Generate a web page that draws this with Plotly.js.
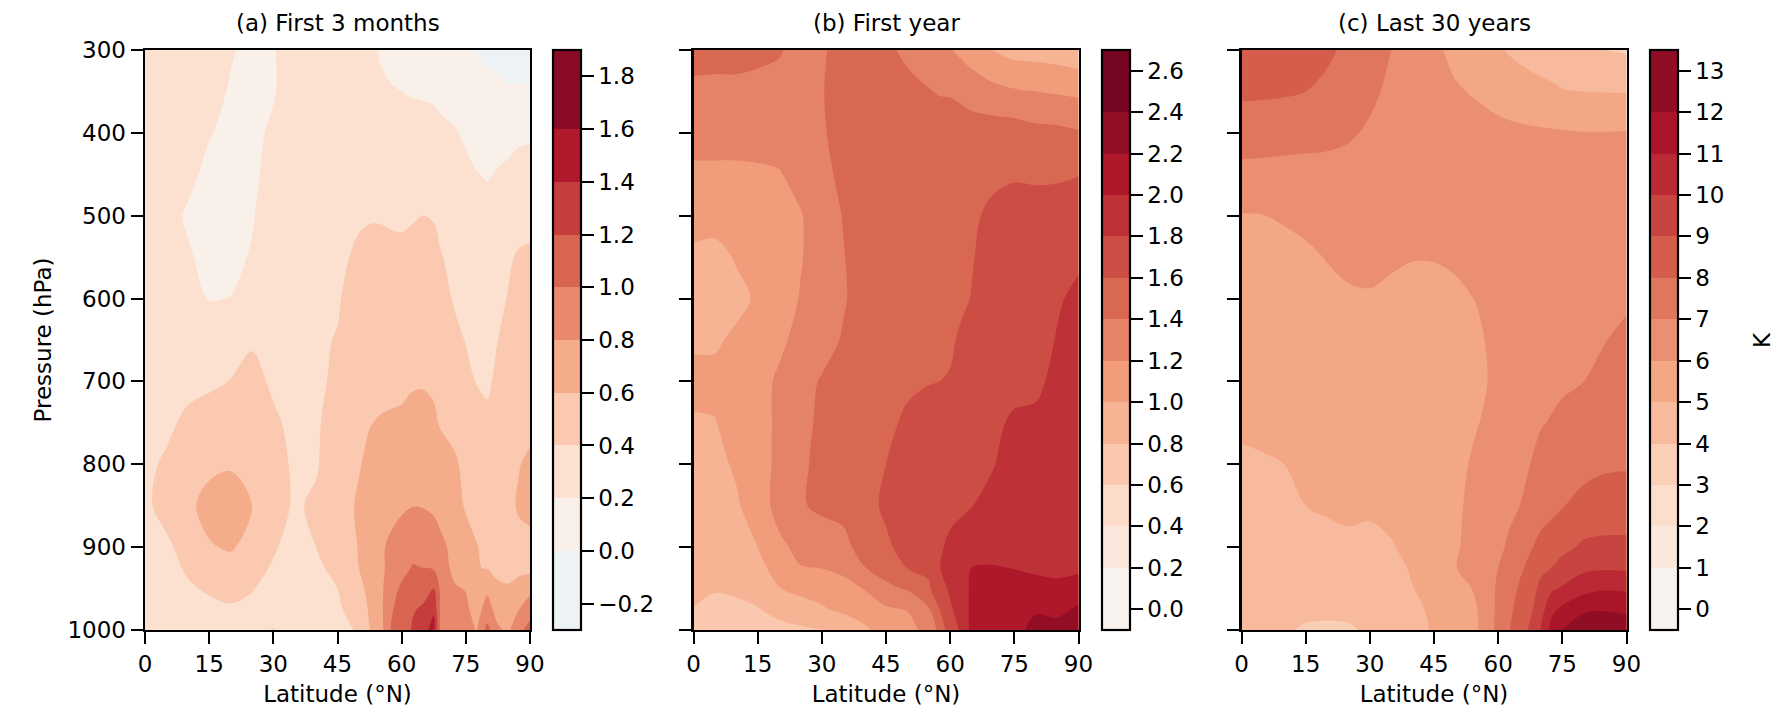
<!DOCTYPE html>
<html><head><meta charset="utf-8">
<script src="https://cdn.plot.ly/plotly-3.0.1.min.js"></script>
<style>html,body{margin:0;padding:0;background:#fff}</style></head>
<body><div id="chart" style="width:1787px;height:718px"></div>
<script>
const pressure=[300,350,400,450,500,550,600,650,700,750,800,850,900,925,950,975,1000];
const latA=[0,5,10,15,20,25,30,35,40,45,50,52.5,55,57.5,60,62.5,65,67.5,69,72.5,75,77.5,80,82.5,85,87.5,90];
const latB=[0,5,10,15,20,25,30,35,40,45,50,55,57.5,60,62.5,65,70,75,80,85,90];
const latC=[0,5,10,15,20,25,30,35,40,45,50,55,60,62.5,65,67.5,70,72.5,75,80,85,90];
const zA=[
[.28,.28,.27,.25,.21,.17,.19,.27,.29,.29,.26,.23,.19,.16,.14,.13,.12,.11,.1,.08,.04,-.01,-.03,-.04,-.04,-.04,-.04],
[.28,.28,.27,.24,.19,.16,.19,.27,.3,.3,.27,.25,.22,.21,.2,.19,.185,.18,.165,.14,.12,.09,.05,.03,.01,.01,.01],
[.29,.28,.25,.205,.18,.17,.22,.28,.3,.32,.31,.29,.28,.27,.26,.25,.25,.24,.23,.21,.18,.15,.12,.15,.16,.18,.185],
[.29,.27,.22,.18,.16,.17,.25,.3,.33,.35,.35,.34,.33,.32,.31,.31,.32,.31,.29,.26,.23,.205,.19,.21,.225,.24,.24],
[.3,.23,.19,.17,.16,.19,.27,.32,.35,.37,.385,.39,.39,.385,.38,.39,.4,.39,.36,.31,.28,.26,.25,.27,.3,.33,.34],
[.3,.26,.21,.175,.17,.21,.28,.33,.36,.375,.42,.44,.44,.43,.43,.44,.46,.45,.41,.36,.33,.3,.29,.33,.38,.42,.43],
[.31,.29,.25,.195,.202,.25,.3,.34,.37,.39,.45,.48,.48,.47,.47,.48,.49,.48,.45,.385,.36,.33,.32,.36,.41,.45,.46],
[.32,.32,.3,.27,.29,.385,.35,.35,.385,.405,.48,.5,.5,.5,.5,.5,.51,.5,.48,.43,.395,.36,.35,.4,.45,.47,.47],
[.34,.35,.36,.37,.405,.44,.38,.36,.37,.43,.52,.55,.56,.57,.575,.59,.59,.58,.54,.49,.44,.395,.37,.44,.49,.52,.52],
[.36,.37,.43,.48,.49,.5,.42,.37,.38,.47,.55,.595,.61,.615,.62,.63,.64,.62,.59,.55,.5,.45,.44,.48,.52,.55,.56],
[.37,.42,.47,.56,.58,.56,.45,.38,.385,.5,.59,.63,.66,.67,.68,.69,.7,.68,.66,.62,.56,.5,.47,.5,.55,.595,.627],
[.37,.455,.56,.66,.7,.6,.47,.38,.425,.53,.62,.66,.7,.72,.77,.795,.79,.76,.73,.65,.585,.53,.5,.52,.56,.62,.65],
[.33,.37,.46,.585,.62,.54,.42,.33,.4,.47,.61,.65,.76,.85,.9,.95,.96,.92,.85,.74,.66,.61,.55,.52,.53,.55,.55],
[.31,.35,.42,.52,.53,.47,.38,.31,.38,.43,.6,.67,.74,.88,.94,1.01,1,.98,.9,.74,.68,.61,.59,.57,.57,.56,.55],
[.3,.34,.38,.42,.45,.41,.34,.3,.33,.4,.56,.64,.75,.93,1.03,1.1,1.16,1.2,.97,.82,.79,.68,.76,.62,.61,.66,.73],
[.29,.32,.34,.36,.38,.36,.33,.29,.31,.37,.5,.62,.74,.98,1.07,1.19,1.215,1.37,.98,.9,.84,.72,.88,.72,.74,.8,.94],
[.28,.3,.31,.32,.33,.37,.405,.29,.29,.34,.42,.6,.72,1.01,1.12,1.21,1.33,1.47,.98,.92,.87,.79,1.06,.83,.77,.97,1.05]
];
const zB=[
[1.47,1.47,1.47,1.44,1.41,1.36,1.38,1.46,1.45,1.43,1.37,1.28,1.25,1.21,1.16,1.11,.99,.93,.92,.9,.86],
[1.36,1.35,1.35,1.35,1.36,1.37,1.39,1.48,1.47,1.46,1.44,1.41,1.385,1.38,1.35,1.31,1.26,1.22,1.2,1.18,1.16],
[1.28,1.28,1.28,1.28,1.27,1.31,1.37,1.5,1.52,1.52,1.52,1.52,1.52,1.52,1.51,1.5,1.5,1.5,1.46,1.45,1.42],
[1.16,1.16,1.16,1.17,1.19,1.25,1.33,1.46,1.54,1.55,1.56,1.56,1.56,1.56,1.55,1.54,1.56,1.58,1.575,1.58,1.595],
[1.06,1.05,1.08,1.1,1.14,1.19,1.28,1.41,1.52,1.54,1.55,1.55,1.55,1.55,1.55,1.57,1.64,1.68,1.67,1.67,1.68],
[.97,.96,1.01,1.06,1.12,1.19,1.27,1.39,1.5,1.53,1.54,1.55,1.55,1.56,1.57,1.59,1.66,1.69,1.7,1.73,1.77],
[.95,.94,.97,1.015,1.11,1.21,1.3,1.38,1.49,1.53,1.55,1.55,1.555,1.56,1.575,1.605,1.68,1.7,1.72,1.78,1.84],
[.98,.985,1.02,1.07,1.16,1.26,1.31,1.42,1.5,1.53,1.54,1.55,1.56,1.58,1.62,1.66,1.69,1.72,1.73,1.81,1.87],
[1.04,1.03,1.06,1.13,1.23,1.32,1.42,1.47,1.5,1.52,1.57,1.595,1.6,1.61,1.65,1.68,1.71,1.74,1.76,1.85,1.9],
[.985,.995,1.05,1.12,1.24,1.34,1.44,1.49,1.52,1.56,1.63,1.65,1.66,1.68,1.7,1.73,1.76,1.83,1.84,1.88,1.92],
[.95,.96,1.02,1.11,1.25,1.36,1.46,1.5,1.54,1.6,1.66,1.69,1.71,1.72,1.74,1.76,1.79,1.88,1.9,1.91,1.94],
[.9,.9,.98,1.08,1.28,1.385,1.43,1.45,1.54,1.63,1.68,1.72,1.74,1.76,1.78,1.795,1.86,1.92,1.93,1.94,1.95],
[.88,.86,.9,1,1.15,1.26,1.31,1.35,1.47,1.57,1.66,1.72,1.78,1.83,1.85,1.9,1.94,1.97,1.95,1.95,1.95],
[.87,.84,.87,.94,1.08,1.19,1.205,1.25,1.395,1.47,1.605,1.64,1.795,1.85,1.88,2,2.01,1.995,1.97,1.97,1.97],
[.86,.815,.83,.88,.995,1.03,1.07,1.13,1.21,1.36,1.42,1.57,1.75,1.82,1.88,2.04,2.07,2.07,2.06,2.03,2.07],
[.795,.75,.76,.79,.86,.95,.98,1.04,1.08,1.17,1.21,1.38,1.6,1.78,1.86,2.05,2.09,2.12,2.18,2.13,2.24],
[.72,.7,.7,.72,.74,.76,.795,.85,.97,1.08,1.12,1.28,1.45,1.72,1.82,2.06,2.14,2.14,2.26,2.3,2.34]
];
const zC=[
[8.6,8.6,8.5,8.4,8.2,7.75,7.3,7,6.5,6.15,5.8,5.4,5.1,4.92,4.8,4.7,4.6,4.5,4.35,4.15,4,3.9],
[8.2,8.18,8.12,8,7.75,7.5,7.15,6.85,6.6,6.4,6.08,5.92,5.65,5.55,5.4,5.3,5.22,5.15,5.05,5,4.97,4.96],
[7.35,7.3,7.3,7.3,7.2,7.1,6.9,6.8,6.7,6.6,6.4,6.28,6.25,6.2,6.18,6.15,6.13,6.1,6.08,6.03,6.03,6.05],
[6.8,6.8,6.75,6.7,6.75,6.7,6.65,6.6,6.6,6.6,6.55,6.5,6.5,6.5,6.5,6.45,6.45,6.45,6.45,6.45,6.45,6.45],
[5.95,5.98,6.1,6.3,6.4,6.45,6.5,6.5,6.4,6.4,6.45,6.45,6.45,6.45,6.45,6.45,6.45,6.45,6.45,6.5,6.5,6.55],
[5.6,5.6,5.7,5.8,6.05,6.25,6.3,6.2,6.05,6.05,6.2,6.4,6.5,6.5,6.5,6.5,6.5,6.55,6.6,6.65,6.7,6.75],
[5.5,5.5,5.5,5.5,5.7,5.85,5.9,5.7,5.6,5.65,5.75,6.05,6.5,6.55,6.55,6.55,6.6,6.65,6.7,6.75,6.85,6.9],
[5.5,5.5,5.45,5.45,5.5,5.5,5.5,5.5,5.5,5.55,5.7,5.8,6.35,6.5,6.55,6.6,6.7,6.72,6.8,6.9,6.98,7.15],
[5.4,5.4,5.4,5.4,5.4,5.4,5.45,5.45,5.45,5.5,5.6,5.75,6.25,6.5,6.55,6.65,6.8,6.82,6.9,7,7.25,7.4],
[5.2,5.25,5.3,5.35,5.35,5.4,5.4,5.45,5.45,5.5,5.6,5.95,6.35,6.55,6.65,6.8,6.95,7.05,7.15,7.3,7.55,7.6],
[4.8,4.9,5,5.15,5.25,5.35,5.35,5.4,5.4,5.45,5.7,6.2,6.5,6.65,6.8,7,7.25,7.4,7.6,7.7,7.85,7.9],
[4.5,4.6,4.7,5,5.1,5.2,5.15,5.2,5.3,5.45,5.8,6.35,6.7,6.85,7,7.45,7.7,7.8,7.95,8.3,8.5,8.5],
[4.35,4.45,4.4,4.6,4.75,4.8,4.75,4.95,5.2,5.4,5.9,6.35,6.85,7.1,7.45,7.93,8.2,8.4,8.75,9.15,9.2,9.2],
[4.3,4.35,4.3,4.4,4.5,4.6,4.55,4.7,5.1,5.35,5.98,6.25,7,7.4,7.85,8.2,8.75,9,9.35,9.8,9.9,9.85],
[4.25,4.3,4.2,4.2,4.3,4.4,4.4,4.5,4.98,5.3,5.7,6.1,7.15,7.6,8.1,8.5,9.3,9.85,10.1,10.65,10.9,10.85],
[4.2,4.2,4.15,4.1,4.1,4.15,4.25,4.35,4.75,5.2,5.5,5.98,7.2,7.8,8.3,8.8,9.6,10.75,11.2,11.85,11.95,11.85],
[4.2,4.15,4.05,3.95,3.92,3.92,4.1,4.25,4.6,5.12,5.3,5.9,7.25,7.95,8.45,9.2,10.05,11.4,12,12.6,12.5,12.4]
];
const titles=["(a) First 3 months","(b) First year","(c) Last 30 years"];
const xTicks=[0,15,30,45,60,75,90];
const yTicks=[300,400,500,600,700,800,900,1000];
const tickValsA=[-.2,0,.2,.4,.6,.8,1,1.2,1.4,1.6,1.8];
const tickTextA=["\u22120.2","0.0","0.2","0.4","0.6","0.8","1.0","1.2","1.4","1.6","1.8"];
const tickValsB=[0,.2,.4,.6,.8,1,1.2,1.4,1.6,1.8,2,2.2,2.4,2.6];
const tickTextB=["0.0","0.2","0.4","0.6","0.8","1.0","1.2","1.4","1.6","1.8","2.0","2.2","2.4","2.6"];
const tickValsC=[0,1,2,3,4,5,6,7,8,9,10,11,12,13];

const W=1787,H=718,TOP=50,BOTTOM=630,FS=23;
const FONT="'DejaVu Sans',sans-serif";
const anchors=[[.4,[209,229,240]],[.5,[247,247,247]],[.6,[253,219,199]],[.7,[244,165,130]],[.8,[214,96,77]],[.9,[178,24,43]],[1,[103,0,31]]];
function rdbu(t){
  for(let i=0;i<anchors.length-1;i++){
    const [a,ca]=anchors[i],[b,cb]=anchors[i+1];
    if(t<=b){const f=(t-a)/(b-a);return 'rgb('+ca.map((c,k)=>Math.round(c+(cb[k]-c)*f)).join(',')+')';}
  }
  return 'rgb(103,0,31)';
}
function stepped(start,size,n,half){
  const cols=[];for(let k=0;k<n;k++)cols.push(rdbu(.5+(start+(k+.5)*size)/(2*half)));
  const s=[[0,cols[0]]];
  for(let k=0;k<n;k++)s.push([(k+1)/(n+1),cols[k]]);
  s.push([1,cols[n-1]]);
  return s;
}
function panel(idx,x,z,start,size,n,half,vals,text,px){
  const s=idx===0?'':String(idx+1);
  return {type:'contour',x:x,y:pressure,z:z,xaxis:'x'+s,yaxis:'y'+s,autocontour:false,
    contours:{coloring:'fill',start:start,end:start+n*size,size:size,showlines:false},
    line:{width:0},colorscale:stepped(start,size,n,half),hoverinfo:'skip',
    colorbar:{x:(px+408)/W,xanchor:'left',xref:'paper',y:1-BOTTOM/H,yanchor:'bottom',yref:'paper',lenmode:'pixels',len:BOTTOM-TOP,
      thicknessmode:'pixels',thickness:28,xpad:0,ypad:0,outlinecolor:'#000',outlinewidth:2.2,
      ticks:'outside',ticklen:12,tickwidth:2,tickcolor:'#000',tickmode:'array',tickvals:vals,ticktext:text,
      tickfont:{family:FONT,size:FS,color:'#000'}}};
}
const PX=[145,693.5,1241.5];
const data=[
  panel(0,latA,zA,-.2,.2,10,1.875,tickValsA,tickTextA,PX[0]),
  panel(1,latB,zB,0,.2,13,2.6,tickValsB,tickTextB,PX[1]),
  panel(2,latC,zC,0,1,13,14,tickValsC,tickValsC.map(String),PX[2])
];
const layout={width:W,height:H,margin:{l:0,r:0,t:0,b:0},paper_bgcolor:'#fff',plot_bgcolor:'#fff',showlegend:false,
  font:{family:FONT,size:FS,color:'#000'},annotations:[],shapes:[]};
PX.forEach((p,i)=>{
  const s=i===0?'':String(i+1);
  layout['xaxis'+s]={domain:[p/W,(p+385)/W],range:[0,90],anchor:'y'+s,tickmode:'array',tickvals:xTicks,ticks:'outside',ticklen:12,tickwidth:2,tickcolor:'#000',
    showline:true,mirror:true,linecolor:'#000',linewidth:2.4,showgrid:false,zeroline:false,tickfont:{family:FONT,size:FS,color:'#000'},
    title:{text:'Latitude (°N)',standoff:10,font:{family:FONT,size:FS,color:'#000'}}};
  layout['yaxis'+s]={domain:[1-BOTTOM/H,1-TOP/H],range:[1000,300],anchor:'x'+s,tickmode:'array',tickvals:yTicks,ticks:'outside',ticklen:12,tickwidth:2,tickcolor:'#000',
    showline:true,mirror:true,linecolor:'#000',linewidth:2.4,showgrid:false,zeroline:false,showticklabels:i===0,tickfont:{family:FONT,size:FS,color:'#000'}};
  layout.annotations.push({text:titles[i],xref:'paper',yref:'paper',x:(p+192.5)/W,y:1-23/H,xanchor:'center',yanchor:'middle',showarrow:false,font:{family:FONT,size:FS,color:'#000'}});
});
layout.yaxis.title={text:'Pressure (hPa)',standoff:10,font:{family:FONT,size:FS,color:'#000'}};
layout.annotations.push({text:'K',xref:'paper',yref:'paper',x:1762/W,y:1-340/H,xanchor:'center',yanchor:'middle',textangle:-90,showarrow:false,font:{family:FONT,size:FS,color:'#000'}});
Plotly.newPlot('chart',data,layout,{displayModeBar:false,staticPlot:true});
</script></body></html>
